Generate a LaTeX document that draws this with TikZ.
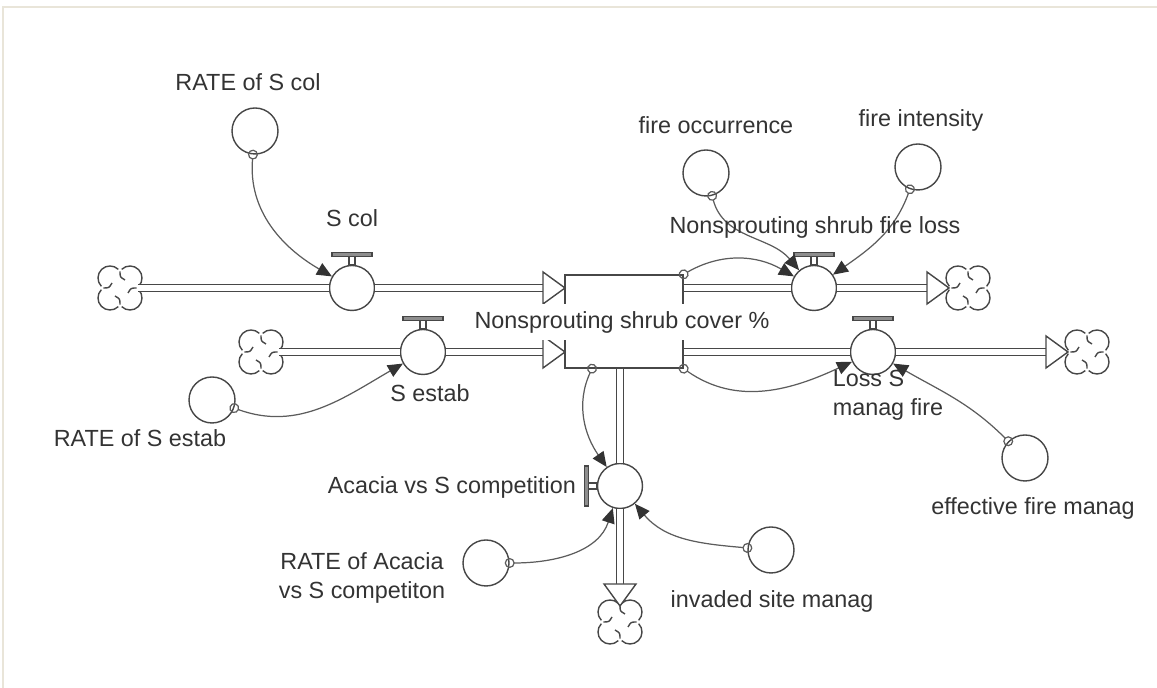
\documentclass[tikz,border=0pt]{standalone}
\usepackage{fontspec}
\setmainfont{Liberation Sans}
\usetikzlibrary{arrows.meta,calc}
\definecolor{Ink}{HTML}{333333}
\definecolor{Rim}{HTML}{474747}
\definecolor{Link}{HTML}{5C5C5C}
\definecolor{Frame}{HTML}{E9E5D9}
\definecolor{Knob}{HTML}{8E8E8E}
\tikzset{
  stockbox/.style={draw=Rim,line width=0.8pt,minimum width=2.36cm,minimum height=1.86cm,inner sep=0pt},
  valve/.style={circle,draw=Rim,fill=white,line width=0.8pt,minimum size=0.9cm,inner sep=0pt},
  aux/.style={circle,draw=Rim,line width=0.8pt,minimum size=0.92cm,inner sep=0pt},
  cloudy/.style={circle,minimum size=0.7cm,inner sep=0pt},
  pipe/.style={draw=Rim,line width=0.8pt,double=white,double distance=0.11cm},
  link/.style={draw=Link,line width=0.7pt,shorten <=-0.1cm,{Circle[open,length=0.2cm]}-{Triangle[length=0.3cm,width=0.26cm,color=Ink]}},
  lbl/.style={font=\fontsize{13.3}{16.5}\selectfont,text=Ink,align=center,inner sep=1pt},
  flowhead/.pic={\draw[Rim,line width=0.8pt,fill=white] (0,-16) -- (22,0) -- (0,16) -- cycle;}
}

\begin{document}
\begin{tikzpicture}[x=0.02cm,y=0.02cm]
  \useasboundingbox (0,0) rectangle (1157,688);
  \draw[Frame,line width=1.2pt] (3,0) -- (3,681) -- (1157,681);

  % stock
  \node[stockbox] (stock) at (624,366.5) {};

  % valves
  \node[valve] (scol) at (352,400) {};
  \node[valve] (sestab) at (423,336) {};
  \node[valve] (fireloss) at (814,400) {};
  \node[valve] (managloss) at (873,336) {};
  \node[valve] (acacia) at (620,202) {};

  % sources and sinks
  \node[cloudy] (srccol) at (120,400) {};
  \node[cloudy] (srcest) at (261,336) {};
  \node[cloudy] (sinkfire) at (968,400) {};
  \node[cloudy] (sinkmanag) at (1087,336) {};
  \node[cloudy] (sinkacacia) at (620,66) {};
  \foreach \c in {srccol,srcest,sinkfire,sinkmanag,sinkacacia} {
    \begin{scope}[shift={(\c.center)},Rim,line width=0.8pt]
      \foreach \k in {0,-90,-180,-270} {
        \draw[rotate=\k] (10,10) ++(133.8:12) arc[start angle=133.8,end angle=-43.8,radius=12];
        \draw[rotate=\k] (0,16.6) .. controls (0,11) .. (5,8);
      }
    \end{scope}
  }

  % flow heads
  \coordinate (h1) at (543,400);
  \coordinate (h2) at (543,336);
  \coordinate (h3) at (927,400);
  \coordinate (h4) at (1046,336);
  \coordinate (h5) at (620,104);

  % pipes
  \draw[pipe] (srccol) -- (scol);
  \draw[pipe] (scol) -- (h1);
  \draw[pipe] (srcest) -- (sestab);
  \draw[pipe] (sestab) -- (h2);
  \draw[pipe] (stock.east |- fireloss) -- (fireloss);
  \draw[pipe] (fireloss) -- (h3);
  \draw[pipe] (stock.east |- managloss) -- (managloss);
  \draw[pipe] (managloss) -- (h4);
  \draw[pipe] (acacia |- stock.south) -- (acacia);
  \draw[pipe] (acacia) -- (h5);
  \pic at (h1) {flowhead};
  \pic at (h2) {flowhead};
  \pic at (h3) {flowhead};
  \pic at (h4) {flowhead};
  \pic[rotate=-90] at (h5) {flowhead};

  % valve handles
  \foreach \v in {scol,sestab,fireloss,managloss} {
    \draw[Rim,line width=0.6pt] ([xshift=-0.06cm]\v.north) rectangle ([xshift=0.06cm,yshift=0.16cm]\v.north);
    \draw[Rim,fill=Knob,line width=0.6pt] ([xshift=-0.4cm,yshift=0.16cm]\v.north) rectangle ([xshift=0.4cm,yshift=0.25cm]\v.north);
  }
  \draw[Rim,line width=0.6pt] ([yshift=-0.06cm]acacia.west) rectangle ([xshift=-0.16cm,yshift=0.06cm]acacia.west);
  \draw[Rim,fill=Knob,line width=0.6pt] ([xshift=-0.16cm,yshift=-0.4cm]acacia.west) rectangle ([xshift=-0.25cm,yshift=0.4cm]acacia.west);

  \node[lbl,fill=white,inner xsep=2pt,inner ysep=4pt] (stock-t) at (622,366) {Nonsprouting shrub cover \%};

  % auxiliaries
  \node[aux] (ratecol) at (255,557) {};
  \node[aux] (fireocc) at (706,515) {};
  \node[aux] (fireint) at (918,521) {};
  \node[aux] (rateest) at (212,288) {};
  \node[aux] (rateac) at (486,125) {};
  \node[aux] (invaded) at (771,138) {};
  \node[aux] (effman) at (1025,230) {};

  % links
  \draw[link] (ratecol) to[out=-95,in=150] (scol);
  \draw[link] (rateest) to[out=-20,in=-150] (sestab);
  \draw[link] (fireocc) to[out=-75,in=130] (fireloss);
  \draw[link] (fireint) to[out=-110,in=35] (fireloss);
  \draw[link] (stock.north east) to[out=30,in=150] (fireloss);
  \draw[link] (stock.south east) to[out=-35,in=-155] (managloss);
  \draw[link] (effman) to[out=135,in=-30] (managloss);
  \draw[link] ([xshift=-0.64cm]stock.south) to[out=-115,in=125] (acacia);
  \draw[link] (rateac) to[out=0,in=-108] (acacia);
  \draw[link] (invaded) to[out=175,in=-50] (acacia);

  % labels
  \node[lbl] (ratecol-t) at (248,606) {RATE of S col};
  \node[lbl] (fireocc-t) at (716,563) {fire occurrence};
  \node[lbl] (fireint-t) at (921,568) {fire intensity};
  \node[lbl] (rateest-t) at (140,250) {RATE of S estab};
  \node[lbl] (rateac-t) at (362,110) {RATE of Acacia\\vs S competiton};
  \node[lbl] (invaded-t) at (772,87) {invaded site manag};
  \node[lbl] (effman-t) at (1033,180) {effective fire manag};
  \node[lbl] (scol-t) at (352,470) {S col};
  \node[lbl] (fireloss-t) at (815,461) {Nonsprouting shrub fire loss};
  \node[lbl] (sestab-t) at (430,295) {S estab};
  \node[lbl,align=left] (managloss-t) at (888,293) {Loss S\\manag fire};
  \node[lbl,anchor=east] (acacia-t) at (578,201) {Acacia vs S competition};
\end{tikzpicture}
\end{document}
